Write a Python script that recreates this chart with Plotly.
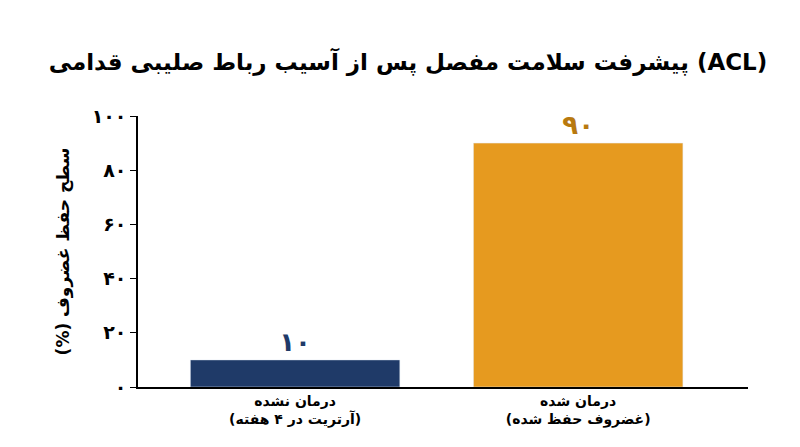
import plotly.graph_objects as go

categories = ["درمان نشده<br>(آرتریت در ۴ هفته)", "درمان شده<br>(غضروف حفظ شده)"]
values = [10, 90]
value_labels = ["۱۰", "۹۰"]
tick_vals = [0, 20, 40, 60, 80, 100]
tick_text = ["۰", "۲۰", "۴۰", "۶۰", "۸۰", "۱۰۰"]
bar_colors = ["#1f3a68", "#e69a1f"]
label_colors = ["#1f3a68", "#b8790f"]

F = "DejaVu Sans"
fig = go.Figure(go.Bar(
    x=[0, 1], y=values, marker_color=bar_colors, width=0.74,
    text=["<b>"+v+"</b>" for v in value_labels], textposition="outside",
    textfont=dict(family=F, size=26, color=label_colors),
    cliponaxis=False,
))
fig.update_layout(
    width=800, height=447, plot_bgcolor="white", paper_bgcolor="white",
    margin=dict(l=130, r=60, t=108, b=68),
    title=dict(text="<b>\u200fپیشرفت سلامت مفصل پس از آسیب رباط صلیبی قدامی (ACL)\u200f</b>",
               x=0.5, xanchor="center", y=0.88, yanchor="middle",
               font=dict(family=F, size=23, color="black")),
    showlegend=False,
    xaxis=dict(range=[-0.555, 1.6], tickvals=[0, 1], ticktext=["<b>"+c.replace("<br>", "</b><br><b>")+"</b>" for c in categories],
               showline=True, linecolor="black", linewidth=1.5, ticks="",
               tickfont=dict(family=F, size=14, color="black")),
    yaxis=dict(range=[0, 100], tickvals=tick_vals, ticktext=["<b>"+t+"</b>" for t in tick_text],
               showline=True, linecolor="black", linewidth=1.5, ticks="outside",
               ticklen=6, tickcolor="black", showgrid=False, zeroline=False,
               tickfont=dict(family=F, size=19, color="black"),
               title=dict(text="<b>\u200fسطح حفظ غضروف (%)\u200f</b>", standoff=18,
                          font=dict(family=F, size=17, color="black"))),
)
fig.write_html("out.html")
